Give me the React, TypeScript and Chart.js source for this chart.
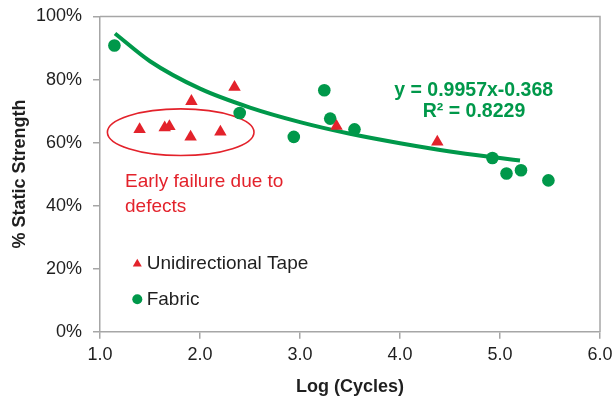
import React, { useEffect, useRef } from "react";
import { Chart, registerables } from "chart.js";

Chart.register(...registerables);

// ---- data ----
const tapeX = [1.396, 1.647, 1.694, 1.914, 1.906, 2.204, 2.345, 3.365, 4.373];
const tapeY = [64.2, 64.7, 65.1, 73.1, 61.8, 63.4, 77.6, 65.2, 60.2];
const fabricX = [1.144, 2.397, 2.938, 3.243, 3.302, 3.545, 4.924, 5.065, 5.21, 5.484];
const fabricY = [90.8, 69.4, 61.8, 76.6, 67.6, 64.2, 55.1, 50.2, 51.2, 48.0];
const trendX = [1.15, 1.5, 2, 2.5, 3, 3.5, 4, 4.5, 5, 5.2];
const trendY = [94.6, 85.8, 77.1, 71.1, 66.5, 62.8, 59.8, 57.2, 55.1, 54.3];
const seriesNames = ["Unidirectional Tape", "Fabric"];
const equationLines = ["y = 0.9957x-0.368", "R² = 0.8229"];
const noteLines = ["Early failure due to", "defects"];
const xTitle = "Log (Cycles)";
const yTitle = "% Static Strength";
const xRange = [1, 6];
const yRange = [0, 100];

const RED = "#e3222b";
const GREEN = "#00984a";
const FRAME = "#a6a6a6";
const TEXT = "#1f1f1f";
const FONT = "'Liberation Sans', Arial, sans-serif";

const overlay = {
  id: "overlay",
  beforeDatasetsDraw(chart: any) {
    const { ctx, chartArea: a, scales } = chart;
    const x = scales.x;
    const y = scales.y;
    ctx.save();
    ctx.strokeStyle = FRAME;
    ctx.lineWidth = 1.5;
    ctx.beginPath();
    ctx.moveTo(a.left, a.top);
    ctx.lineTo(a.right, a.top);
    ctx.lineTo(a.right, a.bottom);
    ctx.stroke();
    const cx = x.getPixelForValue(1.807);
    const cy = y.getPixelForValue(63.3);
    const rx = x.getPixelForValue(1.807 + 0.733) - cx;
    const ry = cy - y.getPixelForValue(63.3 + 7.4);
    ctx.strokeStyle = RED;
    ctx.lineWidth = 1.6;
    ctx.beginPath();
    ctx.ellipse(cx, cy, rx, ry, 0, 0, Math.PI * 2);
    ctx.stroke();
    ctx.restore();
  },
  afterDatasetsDraw(chart: any) {
    const { ctx, chartArea: a, scales } = chart;
    const x = scales.x;
    const y = scales.y;
    ctx.save();
    ctx.fillStyle = RED;
    ctx.font = `19px ${FONT}`;
    ctx.textAlign = "left";
    ctx.textBaseline = "alphabetic";
    ctx.fillText(noteLines[0], x.getPixelForValue(1.25), y.getPixelForValue(46.0));
    ctx.fillText(noteLines[1], x.getPixelForValue(1.25), y.getPixelForValue(38.1));
    ctx.fillStyle = GREEN;
    ctx.font = `bold 19.5px ${FONT}`;
    ctx.textAlign = "center";
    ctx.textBaseline = "middle";
    ctx.fillText(equationLines[0], x.getPixelForValue(4.737), y.getPixelForValue(76.5));
    ctx.fillText(equationLines[1], x.getPixelForValue(4.74), y.getPixelForValue(69.8));
    const mx = a.left + 37.3;
    const r1 = a.bottom - 67.7;
    const r2 = a.bottom - 32.4;
    ctx.fillStyle = RED;
    const tr = 5.2;
    ctx.beginPath();
    ctx.moveTo(mx, r1 - tr);
    ctx.lineTo(mx + tr * 0.866, r1 + tr / 2);
    ctx.lineTo(mx - tr * 0.866, r1 + tr / 2);
    ctx.closePath();
    ctx.fill();
    ctx.fillStyle = GREEN;
    ctx.beginPath();
    ctx.arc(mx, r2, 5, 0, Math.PI * 2);
    ctx.fill();
    ctx.fillStyle = TEXT;
    ctx.font = `19px ${FONT}`;
    ctx.textAlign = "left";
    ctx.textBaseline = "middle";
    ctx.fillText(seriesNames[0], a.left + 46.7, r1);
    ctx.fillText(seriesNames[1], a.left + 46.7, r2);
    ctx.restore();
  },
};

export default function App() {
  const ref = useRef<HTMLCanvasElement | null>(null);
  useEffect(() => {
    document.body.style.margin = "0";
    const canvas = ref.current;
    if (!canvas) return;
    const chart = new Chart(canvas, {
      type: "scatter",
      data: {
        datasets: [
          {
            label: "trend",
            data: trendX.map((v, i) => ({ x: v, y: trendY[i] })),
            showLine: true,
            borderColor: GREEN,
            borderWidth: 4,
            pointRadius: 0,
            tension: 0.4,
            cubicInterpolationMode: "monotone",
            order: 3,
          } as any,
          {
            label: seriesNames[1],
            data: fabricX.map((v, i) => ({ x: v, y: fabricY[i] })),
            backgroundColor: GREEN,
            borderColor: GREEN,
            pointStyle: "circle",
            pointRadius: 6.3,
            borderWidth: 0,
            order: 2,
          },
          {
            label: seriesNames[0],
            data: tapeX.map((v, i) => ({ x: v, y: tapeY[i] })),
            backgroundColor: RED,
            borderColor: RED,
            pointStyle: "triangle",
            pointRadius: 7.2,
            borderWidth: 0,
            order: 1,
          },
        ],
      },
      options: {
        animation: false,
        responsive: false,
        devicePixelRatio: 1,
        layout: { padding: { top: 16.5, right: 14, bottom: 0, left: 0 } },
        plugins: { legend: { display: false }, tooltip: { enabled: false } },
        scales: {
          x: {
            type: "linear",
            min: xRange[0],
            max: xRange[1],
            ticks: {
              stepSize: 1,
              callback: (v: any) => Number(v).toFixed(1),
              font: { family: FONT, size: 18 },
              color: TEXT,
              padding: 5.5,
            },
            grid: { drawOnChartArea: false, tickLength: 7, color: FRAME, lineWidth: 1.5 },
            border: { color: FRAME, width: 1.5 },
            title: {
              display: true,
              text: xTitle,
              font: { family: FONT, size: 18, weight: "bold", lineHeight: 1.2 },
              color: TEXT,
              padding: { top: 0, bottom: -2 },
            },
            afterFit: (s: any) => {
              s.height = 64.3;
              s.paddingLeft = 0;
              s.paddingRight = 0;
            },
          },
          y: {
            type: "linear",
            min: yRange[0],
            max: yRange[1],
            ticks: {
              stepSize: 20,
              callback: (v: any) => `${v}%`,
              font: { family: FONT, size: 18 },
              color: TEXT,
              padding: 11,
            },
            grid: { drawOnChartArea: false, tickLength: 7, color: FRAME, lineWidth: 1.5 },
            border: { color: FRAME, width: 1.5 },
            title: {
              display: true,
              text: yTitle,
              font: { family: FONT, size: 18, weight: "bold", lineHeight: 1.2 },
              color: TEXT,
              padding: { top: 9.2, bottom: 0 },
            },
            afterFit: (s: any) => {
              s.width = 100;
              s.paddingTop = 0;
              s.paddingBottom = 0;
            },
          },
        },
      } as any,
      plugins: [overlay],
    });
    return () => chart.destroy();
  }, []);
  return (
    <div style={{ width: 614, height: 396 }}>
      <canvas ref={ref} width={614} height={396} style={{ display: "block" }} />
    </div>
  );
}
